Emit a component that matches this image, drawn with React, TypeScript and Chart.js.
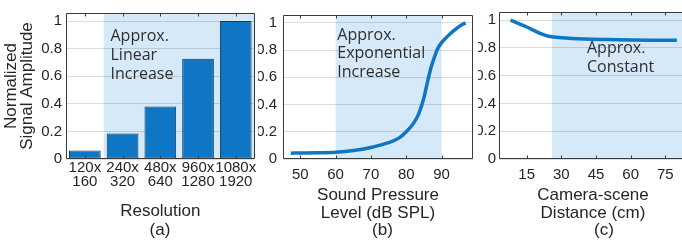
import React, { useEffect, useRef } from "react";
import { Chart, registerables } from "chart.js";

Chart.register(...registerables);

// ---------- data ----------
const RES_LABELS = [
  ["120x", "160"],
  ["240x", "320"],
  ["480x", "640"],
  ["960x", "1280"],
  ["1080x", "1920"],
];
const RES_VALUES = [0.062, 0.184, 0.38, 0.726, 1.0];

const SPL_X = [47.3, 50, 55, 60, 65, 70, 75, 78, 80, 82, 83.5, 85, 86, 87, 88, 89, 90, 92, 94, 96, 96.8];
const SPL_Y = [0.043, 0.044, 0.046, 0.05, 0.062, 0.085, 0.12, 0.155, 0.2, 0.26, 0.33, 0.45, 0.565, 0.67, 0.75, 0.815, 0.855, 0.91, 0.955, 0.99, 1.0];

const DIST_X = [8, 15, 20.8, 25, 30, 40, 50, 60, 70, 80];
const DIST_Y = [1.0, 0.95, 0.905, 0.882, 0.873, 0.864, 0.86, 0.857, 0.855, 0.854];

const Y_GRID = [0, 0.1, 0.2, 0.3, 0.4, 0.5, 0.6, 0.7, 0.8, 0.9, 1.0];
const Y_LABELS = ["0", "", "0.2", "", "0.4", "", "0.6", "", "0.8", "", "1"];
const SPL_TICKS = [50, 60, 70, 80, 90];
const DIST_TICKS = [15, 30, 45, 60, 75];

const ANNOT_A = ["Approx.", "Linear", "Increase"];
const ANNOT_B = ["Approx.", "Exponential", "Increase"];
const ANNOT_C = ["Approx.", "Constant"];

// ---------- style ----------
const FONT = '"Liberation Sans", Arial, sans-serif';
const ANNOT_FONT = '"Open Sans", sans-serif';
const TEXT = "#262626";
const SHADE = "#d6e9f8";
const BLUE = "#0e76c5";
const GRID = "rgba(38,38,38,0.16)";
const FRAME = "#3a3a3a";
const H = 249;

type Deco = {
  shade: (c: any) => [number, number];
  ticks: (c: any) => number[];
  lines: string[];
  textX: number;
  baselines: number[];
  panel: string;
  panelX: number;
};

function decoPlugin(d: Deco) {
  return {
    id: "deco",
    beforeDraw(chart: any) {
      const { ctx, chartArea: a } = chart;
      const [x0, x1] = d.shade(chart);
      ctx.save();
      ctx.fillStyle = SHADE;
      ctx.fillRect(x0, a.top, x1 - x0, a.bottom - a.top);
      ctx.restore();
    },
    afterDraw(chart: any) {
      const { ctx, chartArea: a } = chart;
      ctx.save();
      ctx.strokeStyle = FRAME;
      ctx.lineWidth = 1;
      const l = Math.round(a.left) + 0.5;
      const r = Math.round(a.right) - 0.5;
      const t = Math.round(a.top) + 0.5;
      const b = Math.round(a.bottom) - 0.5;
      ctx.beginPath();
      ctx.moveTo(l, t);
      ctx.lineTo(r, t);
      ctx.lineTo(r, b);
      ctx.lineTo(l, b);
      ctx.closePath();
      ctx.stroke();
      ctx.beginPath();
      for (const px of d.ticks(chart)) {
        const x = Math.round(px) + 0.5;
        ctx.moveTo(x, b);
        ctx.lineTo(x, b - 3);
        ctx.moveTo(x, t);
        ctx.lineTo(x, t + 3);
      }
      ctx.stroke();
      ctx.fillStyle = "#2e2e2e";
      ctx.font = `16px ${ANNOT_FONT}`;
      ctx.textAlign = "left";
      ctx.textBaseline = "alphabetic";
      d.lines.forEach((s, i) => ctx.fillText(s, d.textX, d.baselines[i]));
      ctx.fillStyle = TEXT;
      ctx.font = `17px ${FONT}`;
      ctx.textAlign = "center";
      ctx.textBaseline = "middle";
      ctx.fillText(d.panel, d.panelX, 230);
      ctx.restore();
    },
  };
}

function yAxis(width: number, pad: number, title?: any) {
  return {
    type: "linear",
    min: 0,
    max: 1.058,
    afterBuildTicks: (s: any) => {
      s.ticks = Y_GRID.map((v) => ({ value: v }));
    },
    afterFit: (s: any) => {
      s.width = width;
    },
    grid: { color: GRID, lineWidth: 1, drawTicks: false },
    border: { display: false },
    ticks: {
      padding: pad,
      color: TEXT,
      font: { family: FONT, size: 15 },
      callback: (_v: any, i: number) => Y_LABELS[i],
    },
    title: title || { display: false },
  };
}

function makeA() {
  return {
    type: "bar",
    data: {
      labels: RES_LABELS,
      datasets: [
        {
          data: RES_VALUES,
          backgroundColor: BLUE,
          borderColor: "#163a5a",
          borderWidth: 1,
          borderSkipped: false,
          barPercentage: 0.84,
          categoryPercentage: 1,
        },
      ],
    },
    options: {
      responsive: false,
      animation: false,
      devicePixelRatio: 1,
      layout: { padding: { top: 5, right: 3, left: 0, bottom: 0 } },
      plugins: { legend: { display: false }, tooltip: { enabled: false } },
      scales: {
        x: {
          afterFit: (s: any) => {
            s.height = 90;
          },
          grid: { display: false, drawTicks: false },
          border: { display: false },
          ticks: {
            padding: 1.5,
            color: TEXT,
            maxRotation: 0,
            autoSkip: false,
            font: { family: FONT, size: 15, lineHeight: 0.97 },
          },
          title: {
            display: true,
            text: ["Resolution"],
            color: TEXT,
            font: { family: FONT, size: 17, lineHeight: 1.1 },
            padding: { top: 0, bottom: 28.6 },
          },
        },
        y: yAxis(66, 4, {
          display: true,
          text: ["Normalized", "Signal Amplitude"],
          color: TEXT,
          font: { family: FONT, size: 17, lineHeight: 0.95 },
          padding: { top: 3.5, bottom: 0 },
        }),
      },
    },
    plugins: [
      decoPlugin({
        shade: (c) => {
          const x = c.scales.x;
          return [(x.getPixelForTick(0) + x.getPixelForTick(1)) / 2, c.chartArea.right];
        },
        ticks: (c) => RES_LABELS.map((_, i) => c.scales.x.getPixelForTick(i)),
        lines: ANNOT_A,
        textX: 110.5,
        baselines: [40.5, 59.5, 78.5],
        panel: "(a)",
        panelX: 160,
      }),
    ],
  };
}

function lineChart(
  xs: number[],
  ys: number[],
  xmin: number,
  xmax: number,
  xticks: number[],
  yWidth: number,
  yPad: number,
  padRight: number,
  title: string[],
  deco: Deco
) {
  return {
    type: "line",
    data: {
      datasets: [
        {
          data: xs.map((x, i) => ({ x, y: ys[i] })),
          borderColor: BLUE,
          borderWidth: 3.5,
          pointRadius: 0,
          fill: false,
          cubicInterpolationMode: "monotone",
        },
      ],
    },
    options: {
      responsive: false,
      animation: false,
      devicePixelRatio: 1,
      layout: { padding: { top: 5, right: padRight, left: 0, bottom: 0 } },
      plugins: { legend: { display: false }, tooltip: { enabled: false } },
      scales: {
        x: {
          type: "linear",
          min: xmin,
          max: xmax,
          afterBuildTicks: (s: any) => {
            s.ticks = xticks.map((v) => ({ value: v }));
          },
          afterFit: (s: any) => {
            s.height = 90;
          },
          grid: { display: false, drawTicks: false },
          border: { display: false },
          ticks: {
            padding: 7,
            color: TEXT,
            maxRotation: 0,
            autoSkip: false,
            font: { family: FONT, size: 15, lineHeight: 1.15 },
          },
          title: {
            display: true,
            text: title,
            color: TEXT,
            font: { family: FONT, size: 17, lineHeight: 1.04 },
            padding: { top: 0, bottom: 26.7 },
          },
        },
        y: yAxis(yWidth, yPad),
      },
    },
    plugins: [decoPlugin(deco)],
  };
}

function makeB() {
  return lineChart(SPL_X, SPL_Y, 45.1, 98.9, SPL_TICKS, 25, 6, 5, ["Sound Pressure", "Level (dB SPL)"], {
    shade: (c) => [c.scales.x.getPixelForValue(60), c.scales.x.getPixelForValue(90)],
    ticks: (c) => SPL_TICKS.map((v) => c.scales.x.getPixelForValue(v)),
    lines: ANNOT_B,
    textX: 79.3,
    baselines: [39.5, 58, 77],
    panel: "(b)",
    panelX: 382.5 - 258,
  });
}

function makeC() {
  return lineChart(DIST_X, DIST_Y, 3.0, 84.4, DIST_TICKS, 21, 3, 5, ["Camera-scene", "Distance (cm)"], {
    shade: (c) => [c.scales.x.getPixelForValue(26), c.chartArea.right],
    ticks: (c) => DIST_TICKS.map((v) => c.scales.x.getPixelForValue(v)),
    lines: ANNOT_C,
    textX: 109,
    baselines: [53, 72],
    panel: "(c)",
    panelX: 604 - 478,
  });
}

function Panel({ left, width, make }: { left: number; width: number; make: () => any }) {
  const ref = useRef<HTMLCanvasElement>(null);
  useEffect(() => {
    const chart = new Chart(ref.current as HTMLCanvasElement, make());
    return () => chart.destroy();
  }, []);
  return (
    <canvas
      ref={ref}
      width={width}
      height={H}
      style={{ position: "absolute", left, top: 0, width, height: H, display: "block" }}
    />
  );
}

export default function App() {
  return (
    <div
      style={{
        position: "fixed",
        left: 0,
        top: 0,
        width: 682,
        height: H,
        overflow: "hidden",
        background: "#ffffff",
      }}
    >
      <Panel left={0} width={258} make={makeA} />
      <Panel left={258} width={220} make={makeB} />
      <Panel left={478} width={214} make={makeC} />
    </div>
  );
}
